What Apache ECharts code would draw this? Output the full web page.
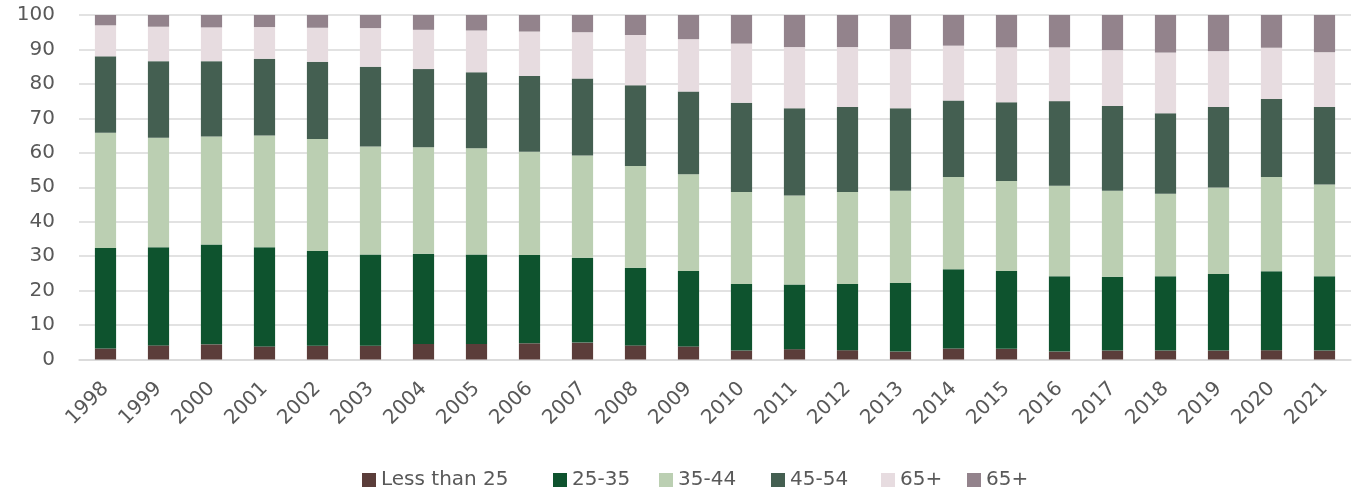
<!DOCTYPE html>
<html>
<head>
<meta charset="utf-8">
<script src="https://cdn.jsdelivr.net/npm/echarts@6/dist/echarts.min.js"></script>
<style>html,body{margin:0;padding:0;background:#fff}#c{width:1355px;height:494px}</style>
</head>
<body>
<div id="c"></div>
<script>
const years = ['1998','1999','2000','2001','2002','2003','2004','2005','2006','2007','2008','2009','2010','2011','2012','2013','2014','2015','2016','2017','2018','2019','2020','2021'];
const lessThan25 = [3.2,4.1,4.4,3.8,4.0,4.0,4.5,4.5,4.7,4.9,4.1,3.8,2.6,3.0,2.7,2.3,3.2,3.1,2.3,2.6,2.6,2.6,2.7,2.6];
const age25to35 = [29.2,28.5,29.0,28.8,27.5,26.5,26.2,26.0,25.6,24.6,22.5,21.9,19.3,18.8,19.2,19.9,23.0,22.6,21.9,21.4,21.6,22.2,22.9,21.6];
const age35to44 = [33.4,31.8,31.3,32.4,32.5,31.3,30.9,30.8,30.0,29.7,29.6,28.1,26.7,25.8,26.7,26.8,26.8,26.1,26.2,25.0,23.9,25.1,27.4,26.6];
const age45to54 = [22.2,22.2,21.9,22.3,22.4,23.2,22.7,22.1,22.0,22.4,23.4,24.0,25.9,25.3,24.7,23.9,22.2,22.9,24.6,24.6,23.4,23.4,22.6,22.5];
const age65plusA = [9.0,10.0,9.8,9.2,9.9,11.2,11.4,12.1,12.9,13.4,14.6,15.2,17.2,17.8,17.4,17.2,15.9,15.9,15.6,16.2,17.6,16.2,14.9,15.9];
const age65plusB = [3.0,3.4,3.6,3.5,3.7,3.8,4.3,4.5,4.8,5.0,5.8,7.0,8.3,9.3,9.3,9.9,8.9,9.4,9.4,10.2,10.9,10.5,9.5,10.8];
const seriesNames = ['Less than 25','25-35','35-44','45-54','65+','65+ '];
const yTicks = [0,10,20,30,40,50,60,70,80,90,100];

const colors = ['#5b3d3a','#0e532e','#bbcfb2','#445f51','#e7dce0','#93838c'];
const dataSets = [lessThan25, age25to35, age35to44, age45to54, age65plusA, age65plusB];
const legendLeft = [362,553,659,771,881,967];
const font = 'DejaVu Sans';

const chart = echarts.init(document.getElementById('c'), null, {renderer:'canvas'});
chart.setOption({
  animation:false,
  color: colors,
  grid:{left:79,right:4,top:15,bottom:134.5,containLabel:false},
  legend: seriesNames.map((n,i)=>({
    left: legendLeft[i], top:470, padding:0,
    itemWidth:14, itemHeight:14, itemGap:0,
    icon:'rect',
    data:[n],
    formatter: s => s.trim(),
    textStyle:{fontFamily:font,fontSize:20,lineHeight:20,color:'#595959',padding:[0,0,0,0]}
  })),
  xAxis:{
    type:'category', data:years,
    axisLine:{show:true,lineStyle:{color:'#d9d9d9',width:1.5}},
    axisTick:{show:false},
    axisLabel:{rotate:45,fontFamily:font,fontSize:20,color:'#595959',margin:26,interval:0}
  },
  yAxis:{
    type:'value', min:yTicks[0], max:yTicks[yTicks.length-1], interval:10,
    axisLine:{show:false}, axisTick:{show:false},
    splitLine:{lineStyle:{color:'#d9d9d9',width:1.5}},
    axisLabel:{fontFamily:font,fontSize:20,color:'#595959',margin:24}
  },
  series: dataSets.map((d,i)=>({
    name: seriesNames[i],
    type:'bar', stack:'total', data:d,
    barCategoryGap:'60%',
    itemStyle:{color:colors[i]}
  }))
});
</script>
</body>
</html>
